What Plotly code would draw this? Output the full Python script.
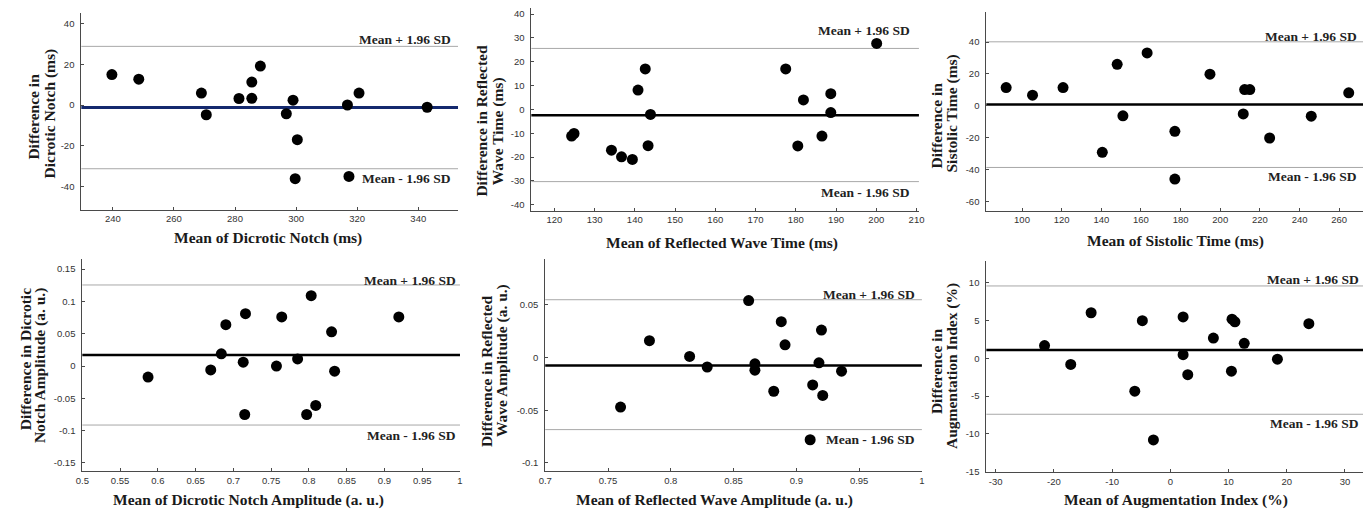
import plotly.graph_objects as go

# ---- Bland-Altman data: mean of the two methods (x) vs. difference (y) ----
notch_mean = [239.7, 248.5, 269.0, 270.6, 281.3, 285.5, 285.5, 288.3,
              296.8, 299.0, 300.4, 299.7, 316.8, 317.3, 320.6, 342.9]
notch_diff = [15.0, 12.7, 5.9, -4.8, 3.2, 3.3, 11.3, 19.2,
              -4.3, 2.4, -17.1, -36.3, 0.0, -35.2, 5.9, -1.1]

rwt_mean = [124.3, 124.9, 134.2, 136.7, 139.4, 140.8, 142.6, 143.3,
            143.9, 177.5, 180.5, 181.9, 186.5, 188.7, 188.7, 200.1]
rwt_diff = [-11.2, -10.1, -17.1, -19.9, -21.0, 8.1, 17.0, -15.2,
            -2.1, 17.0, -15.3, 4.0, -11.2, 6.6, -1.3, 27.7]

sys_mean = [92.0, 105.3, 120.7, 140.5, 148.0, 150.9, 163.1, 177.1,
            177.1, 194.8, 211.6, 212.3, 214.9, 224.9, 245.9, 264.8]
sys_diff = [11.5, 6.7, 11.5, -29.2, 26.1, -6.3, 33.2, -16.0,
            -46.0, 19.9, -5.1, 10.2, 10.2, -20.2, -6.5, 8.2]

dna_mean = [0.587, 0.670, 0.684, 0.690, 0.713, 0.715, 0.716, 0.757,
            0.764, 0.785, 0.797, 0.803, 0.809, 0.830, 0.834, 0.919]
dna_diff = [-0.017, -0.006, 0.019, 0.064, 0.006, -0.075, 0.081, 0.000,
            0.076, 0.011, -0.075, 0.109, -0.061, 0.053, -0.008, 0.076]

rwa_mean = [0.760, 0.783, 0.815, 0.829, 0.862, 0.867, 0.867, 0.882,
            0.888, 0.891, 0.911, 0.913, 0.918, 0.920, 0.921, 0.936]
rwa_diff = [-0.047, 0.016, 0.001, -0.009, 0.054, -0.006, -0.012, -0.032,
            0.034, 0.012, -0.078, -0.026, -0.005, 0.026, -0.036, -0.013]

aix_mean = [-21.6, -17.1, -13.6, -6.1, -4.8, -2.9, 2.2, 2.2,
            3.0, 7.4, 10.5, 10.6, 11.1, 12.7, 18.4, 23.8]
aix_diff = [1.7, -0.8, 6.05, -4.35, 5.0, -10.8, 5.5, 0.5,
            -2.15, 2.7, -1.7, 5.2, 4.85, 2.0, -0.1, 4.6]

# bias and limits of agreement (mean, mean + 1.96 SD, mean - 1.96 SD)
notch_lines = [-1.2, 28.9, -31.4]
rwt_lines = [-2.4, 25.6, -30.3]
sys_lines = [0.9, 40.2, -38.7]
dna_lines = [0.017, 0.1255, -0.0913]
rwa_lines = [-0.0076, 0.0548, -0.0684]
aix_lines = [1.1, 9.6, -7.4]

# tick values per axis
notch_xticks = [240, 260, 280, 300, 320, 340]
notch_yticks = [-40, -20, 0, 20, 40]
rwt_xticks = [120, 130, 140, 150, 160, 170, 180, 190, 200, 210]
rwt_yticks = [-40, -30, -20, -10, 0, 10, 20, 30, 40]
sys_xticks = [100, 120, 140, 160, 180, 200, 220, 240, 260]
sys_yticks = [-60, -40, -20, 0, 20, 40]
dna_xticks = [0.5, 0.55, 0.6, 0.65, 0.7, 0.75, 0.8, 0.85, 0.9, 0.95, 1]
dna_yticks = [-0.15, -0.1, -0.05, 0, 0.05, 0.1, 0.15]
rwa_xticks = [0.7, 0.75, 0.8, 0.85, 0.9, 0.95, 1]
rwa_yticks = [-0.1, -0.05, 0, 0.05]
aix_xticks = [-30, -20, -10, 0, 10, 20, 30]
aix_yticks = [-15, -10, -5, 0, 5, 10]

x_titles = ["Mean of Dicrotic Notch (ms)", "Mean of Reflected Wave Time (ms)",
            "Mean of Sistolic Time (ms)", "Mean of Dicrotic Notch Amplitude (a. u.)",
            "Mean of Reflected Wave Amplitude (a. u.)", "Mean of Augmentation Index (%)"]
y_titles = [("Difference in", "Dicrotic Notch (ms)"),
            ("Difference in Reflected", "Wave Time (ms)"),
            ("Difference in", "Sistolic Time (ms)"),
            ("Difference in Dicrotic", "Notch Amplitude (a. u.)"),
            ("Difference in Reflected", "Wave Amplitude (a. u.)"),
            ("Difference in", "Augmentation Index (%)")]

W, H = 1368, 514
SERIF = "Liberation Serif, Times New Roman, serif"
SANS = "Liberation Sans, Arial, sans-serif"


def px(xp):
    return xp / W


def py(yp):
    return 1 - yp / H


def fmt(v):
    return f"{v:g}"


panels = [
    dict(x=notch_mean, y=notch_diff, lines=notch_lines, xt=notch_xticks, yt=notch_yticks,
         dom=(75, 455, 13, 212), xr=[229.7, 353], yr=[-51.7, 45.4], mean_color="#14296e",
         mean_w=3, xt_pos=(263, 240), yt_pos=((27, 118), (43, 115)), sd_right=450,
         sd_shift=(6.5, -9.5)),
    dict(x=rwt_mean, y=rwt_diff, lines=rwt_lines, xt=rwt_xticks, yt=rwt_yticks,
         dom=(529, 920, 8, 213), xr=[114.3, 210.6], yr=[-42.6, 42.6], mean_color="black",
         mean_w=2.5, xt_pos=(721, 245), yt_pos=((479, 122), (495, 133)), sd_right=913,
         sd_shift=(17.5, -10.5)),
    dict(x=sys_mean, y=sys_diff, lines=sys_lines, xt=sys_xticks, yt=sys_yticks,
         dom=(988, 1368, 12, 213), xr=[82, 272], yr=[-66, 59], mean_color="black",
         mean_w=2.5, xt_pos=(1179, 243), yt_pos=((938, 127), (953, 115)), sd_right=1364,
         sd_shift=(5.5, -9.5)),
    dict(x=dna_mean, y=dna_diff, lines=dna_lines, xt=dna_xticks, yt=dna_yticks,
         dom=(76, 457, 262, 476), xr=[0.5, 1.0], yr=[-0.163, 0.165], mean_color="black",
         mean_w=2.5, xt_pos=(244, 505), yt_pos=((19, 363), (34, 369)), sd_right=455,
         sd_shift=(4.7, -10.4)),
    dict(x=rwa_mean, y=rwa_diff, lines=rwa_lines, xt=rwa_xticks, yt=rwa_yticks,
         dom=(543, 923, 262, 476), xr=[0.7, 1.0], yr=[-0.108, 0.093], mean_color="black",
         mean_w=2.5, xt_pos=(714, 505), yt_pos=((484, 375), (500, 364)), sd_right=918,
         sd_shift=(5.3, -9.7)),
    dict(x=aix_mean, y=aix_diff, lines=aix_lines, xt=aix_xticks, yt=aix_yticks,
         dom=(988, 1368, 264, 477), xr=[-31.6, 33.1], yr=[-15.1, 12.85], mean_color="black",
         mean_w=2.5, xt_pos=(1179, 505), yt_pos=((938, 375), (954, 370)), sd_right=1366,
         sd_shift=(6, -9)),
]

fig = go.Figure()
layout = dict(width=W, height=H, margin=dict(l=0, r=0, t=0, b=0),
              paper_bgcolor="white", plot_bgcolor="white", showlegend=False)
shapes, annotations = [], []

axis_common = dict(showline=True, linecolor="#4a4a4a", linewidth=1, ticks="inside",
                   ticklen=3, tickwidth=1, tickcolor="#4a4a4a", showgrid=False,
                   zeroline=False, tickfont=dict(family=SANS, size=9.5, color="#333333"),
                   tickmode="array")

for i, p in enumerate(panels, start=1):
    sfx = "" if i == 1 else str(i)
    xa, ya = "x" + sfx, "y" + sfx
    x0, x1, y0, y1 = p["dom"]
    layout["xaxis" + sfx] = dict(axis_common, domain=[px(x0), px(x1)], range=p["xr"],
                                 anchor=ya, tickvals=p["xt"],
                                 ticktext=[fmt(v) for v in p["xt"]])
    layout["yaxis" + sfx] = dict(axis_common, domain=[py(y1), py(y0)], range=p["yr"],
                                 anchor=xa, tickvals=p["yt"],
                                 ticktext=[fmt(v) for v in p["yt"]], ticklabelstandoff=4)

    mean_v, up_v, lo_v = p["lines"]
    for val, col, w in [(up_v, "#a8a8a8", 1), (lo_v, "#a8a8a8", 1),
                        (mean_v, p["mean_color"], p["mean_w"])]:
        shapes.append(dict(type="line", xref=xa + " domain", yref=ya, x0=0, x1=1,
                           y0=val, y1=val, layer="below", line=dict(color=col, width=w)))

    fig.add_trace(go.Scatter(x=p["x"], y=p["y"], mode="markers", xaxis=xa, yaxis=ya,
                             marker=dict(size=11, color="black"), cliponaxis=False))

    sd_font = dict(family=SERIF, size=13.5, color="#222222")
    annotations.append(dict(text="<b>Mean + 1.96 SD</b>", xref="paper", yref=ya,
                            x=px(p["sd_right"]), y=up_v, xanchor="right", yanchor="middle",
                            yshift=p["sd_shift"][0], showarrow=False, font=sd_font))
    annotations.append(dict(text="<b>Mean - 1.96 SD</b>", xref="paper", yref=ya,
                            x=px(p["sd_right"]), y=lo_v, xanchor="right", yanchor="middle",
                            yshift=p["sd_shift"][1], showarrow=False, font=sd_font))

    title_font = dict(family=SERIF, size=15.5, color="#1a1a1a")
    annotations.append(dict(text="<b>" + x_titles[i - 1] + "</b>", xref="paper",
                            yref="paper", x=px(p["xt_pos"][0]), y=py(p["xt_pos"][1]),
                            xanchor="center", yanchor="middle", showarrow=False,
                            font=title_font))
    for line_text, (lx, ly) in zip(y_titles[i - 1], p["yt_pos"]):
        annotations.append(dict(text="<b>" + line_text + "</b>", xref="paper",
                                yref="paper", x=px(lx), y=py(ly), xanchor="center",
                                yanchor="middle", textangle=-90, showarrow=False,
                                font=title_font))

layout["shapes"] = shapes
layout["annotations"] = annotations
fig.update_layout(**layout)
fig.write_html("out.html")
